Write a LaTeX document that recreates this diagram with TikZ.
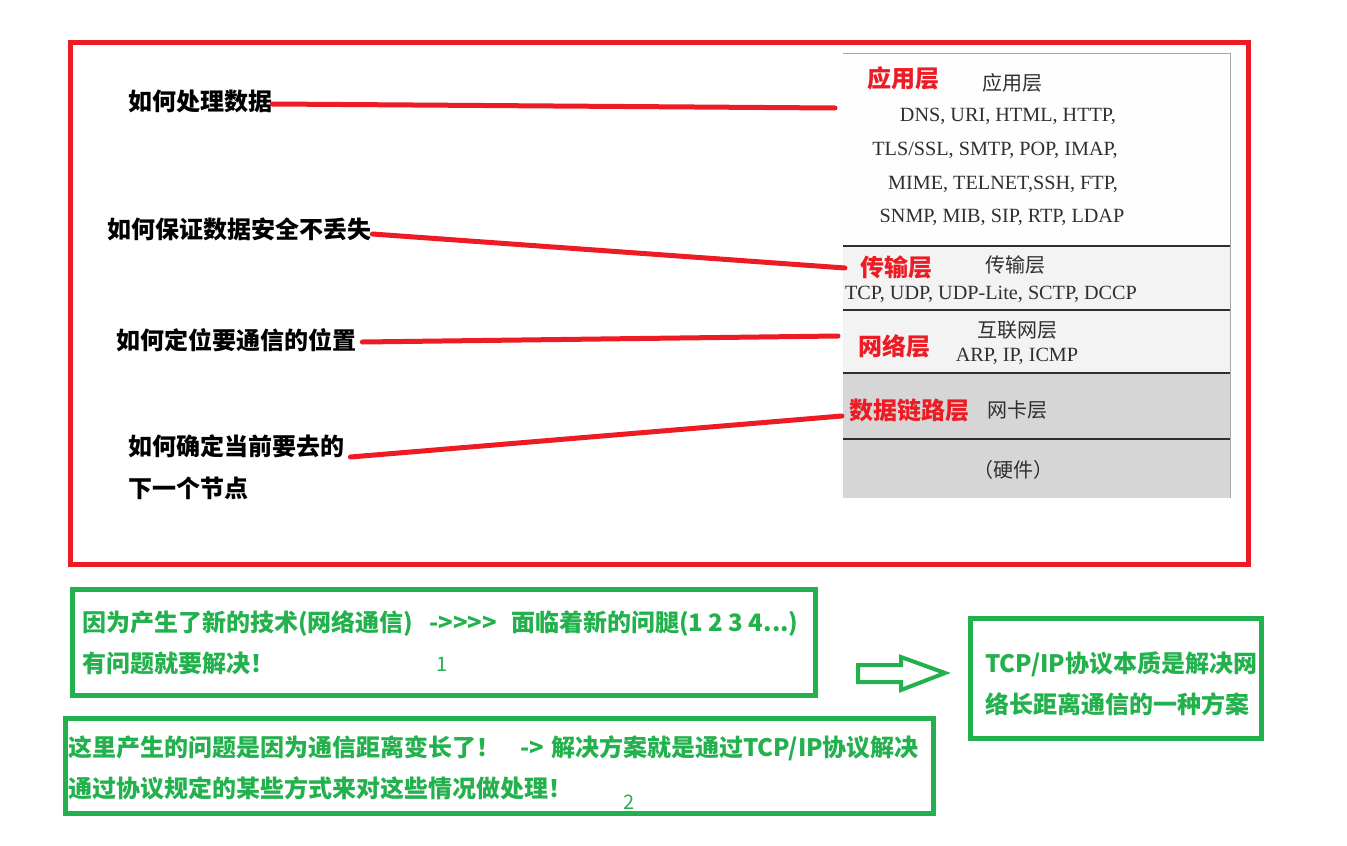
\documentclass[tikz,border=0pt]{standalone}
\usepackage{fontspec}
\setmainfont{Liberation Serif}
\newfontfamily\cjk{Noto Sans CJK SC}
\definecolor{myred}{HTML}{ED1C24}
\definecolor{mygreen}{HTML}{22B14C}
\definecolor{txtgray}{HTML}{2F2F2F}
\definecolor{panelA}{HTML}{FEFEFE}
\definecolor{panelB}{HTML}{F3F3F3}
\definecolor{panelC}{HTML}{D6D6D6}
\definecolor{sepline}{HTML}{2E2E2E}
\tikzset{
  redframe/.style={draw=myred, line width=5pt, minimum width=1178pt, minimum height=522pt, inner sep=0},
  greenbox/.style={draw=mygreen, line width=5pt, inner sep=0},
  qlabel/.style={font=\cjk\bfseries\fontsize{24}{28}\selectfont, inner sep=0, anchor=west},
  layerlbl/.style={text=myred, font=\cjk\bfseries\fontsize{24}{28}\selectfont, inner sep=0, anchor=west},
  graycjk/.style={text=txtgray, font=\cjk\fontsize{20}{24}\selectfont, inner sep=0},
  grayser/.style={text=txtgray, font=\fontsize{20.2}{24}\selectfont, inner sep=0},
  gtext/.style={text=mygreen, font=\cjk\bfseries\fontsize{24}{28}\selectfont, inner sep=0, anchor=west},
  gnum/.style={text=mygreen, font=\cjk\fontsize{20}{24}\selectfont, inner sep=0},
  redline/.style={draw=myred, line width=5pt, line cap=round},
  sepln/.style={draw=sepline, line width=2.5pt},
}
\begin{document}
\begin{tikzpicture}[x=1pt,y=-1pt]
\useasboundingbox[fill=white] (0,0) rectangle (1347,846);

% ---- protocol stack picture ----
\fill[panelA] (843,53) rectangle (1230,246);
\fill[panelB] (843,246) rectangle (1230,373);
\fill[panelC] (843,373) rectangle (1230,498);
\draw[gray!70, line width=1pt] (843,53) -- (1230,53) -- (1230,498);
\draw[sepln] (843,246) -- (1230,246);
\draw[sepln] (843,310) -- (1230,310);
\draw[sepln] (843,373) -- (1230,373);
\draw[sepln] (843,439) -- (1230,439);

\node[graycjk] (app) at (1012,83) {应用层};
\node[grayser] (p1) at (1008,116) {DNS, URI, HTML, HTTP,};
\node[grayser] (p2) at (995,150) {TLS/SSL, SMTP, POP, IMAP,};
\node[grayser] (p3) at (1003,184) {MIME, TELNET,SSH, FTP,};
\node[grayser] (p4) at (1002,217) {SNMP, MIB, SIP, RTP, LDAP};
\node[graycjk] (tra) at (1015,265) {传输层};
\node[grayser] (p5) at (991,294) {TCP, UDP, UDP-Lite, SCTP, DCCP};
\node[graycjk] (net) at (1017,330) {互联网层};
\node[grayser] (p6) at (1017,356) {ARP, IP, ICMP};
\node[graycjk] (nic) at (1017,410) {网卡层};
\node[graycjk] (hw) at (1013,470) {（硬件）};

% ---- red labels ----
\node[layerlbl] (L1) at (867,78) {应用层};
\node[layerlbl] (L2) at (860,267) {传输层};
\node[layerlbl] (L3) at (858,346) {网络层};
\node[layerlbl] (L4) at (849,410) {数据链路层};

% ---- questions ----
\node[qlabel] (q1) at (128,101) {如何处理数据};
\node[qlabel] (q2) at (107,229) {如何保证数据安全不丢失};
\node[qlabel] (q3) at (116,340) {如何定位要通信的位置};
\node[qlabel] (q4a) at (128,446) {如何确定当前要去的};
\node[qlabel] (q4b) at (128,488) {下一个节点};

\coordinate (e1) at (835,108);
\coordinate (e2) at (845,268);
\coordinate (e3) at (838,336);
\coordinate (e4) at (842,416);
\draw[redline] ([yshift=-3pt]q1.east) -- (e1);
\draw[redline] ([xshift=1pt,yshift=-5pt]q2.east) -- (e2);
\draw[redline] ([xshift=6pt,yshift=-2pt]q3.east) -- (e3);
\draw[redline] ([xshift=6pt,yshift=-11pt]q4a.east) -- (e4);

% ---- red frame ----
\node[redframe] (frame) at (659.5,303.5) {};

% ---- green boxes ----
\node[greenbox, minimum width=743pt, minimum height=106pt] (box1) at (444,642.5) {};
\node[gtext] (b1l1) at (82,624) {因为产生了新的技术(网络通信)\hspace{16pt}->>>>\hspace{14pt}面临着新的问腿(1 2 3 4...)};
\node[gtext] (b1l2) at (82,663) {有问题就要解决！};
\node[gnum] (n1) at (442,664) {1};

\node[greenbox, minimum width=868pt, minimum height=95pt] (box2) at (499.5,766) {};
\node[gtext] (b2l1) at (68,748) {这里产生的问题是因为通信距离变长了！\hspace{20pt}->\hspace{7pt}解决方案就是通过TCP/IP协议解决};
\node[gtext] (b2l2) at (68,788) {通过协议规定的某些方式来对这些情况做处理！};
\node[gnum] (n2) at (629,802) {2};

\node[greenbox, minimum width=291pt, minimum height=120pt] (box3) at (1116,678.5) {};
\node[gtext] (b3l1) at (985,664) {TCP/IP协议本质是解决网};
\node[gtext] (b3l2) at (985,704) {络长距离通信的一种方案};

% ---- hollow arrow ----
\draw[draw=mygreen, line width=4pt, line join=miter]
  (858,665) -- (901,665) -- (901,657) -- (945,673) -- (901,690) -- (901,682) -- (858,682) -- cycle;
\end{tikzpicture}
\end{document}
